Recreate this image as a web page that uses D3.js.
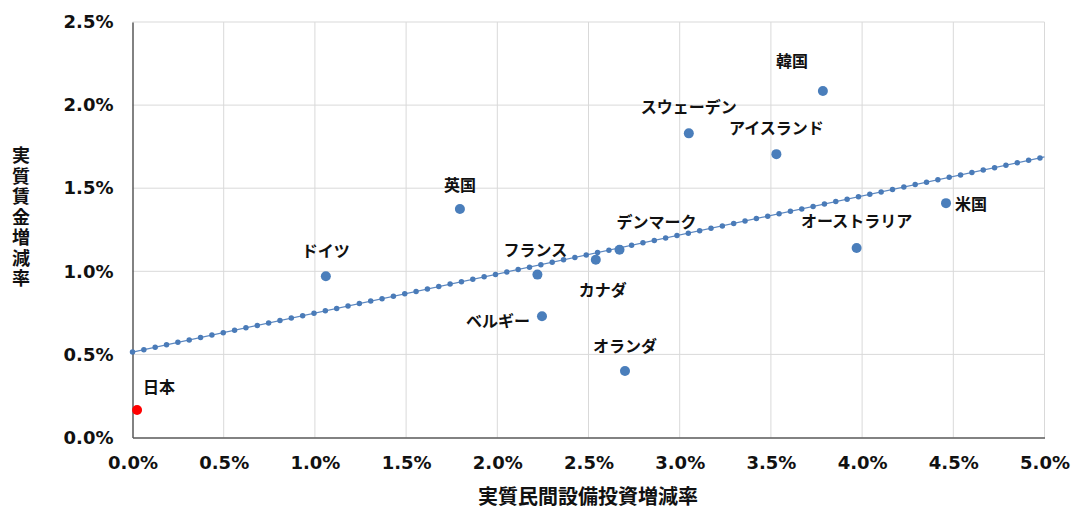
<!DOCTYPE html>
<html>
<head>
<meta charset="utf-8">
<script src="https://cdn.jsdelivr.net/npm/d3@7"></script>
<style>
  body { margin: 0; background: #fff; }
  text { font-family: "Noto Sans CJK JP", sans-serif; font-weight: bold; fill: #111; }
  .tick text { font-family: "DejaVu Sans", Verdana, sans-serif; font-weight: bold; }
</style>
</head>
<body>
<svg id="chart" width="1073" height="508"></svg>
<script>
// 国名と値（%）
var countries = ["日本", "ドイツ", "英国", "フランス", "ベルギー", "カナダ", "デンマーク", "オランダ", "スウェーデン", "アイスランド", "韓国", "オーストラリア", "米国"];
var investGrowth = [0.025, 1.06, 1.795, 2.22, 2.245, 2.54, 2.67, 2.70, 3.05, 3.53, 3.785, 3.97, 4.46];
var wageGrowth = [0.165, 0.97, 1.375, 0.98, 0.73, 1.07, 1.13, 0.40, 1.83, 1.705, 2.085, 1.14, 1.41];
var trendX = [0, 5];
var trendY = [0.514, 1.688];
var xTicks = [0, 0.5, 1, 1.5, 2, 2.5, 3, 3.5, 4, 4.5, 5];
var yTicks = [0, 0.5, 1, 1.5, 2, 2.5];

// ラベルの置き場所 (点からのずれ)
var labelPos = {
  "日本": [22, -24, "middle"], "ドイツ": [0, -26, "middle"], "英国": [0, -25, "middle"],
  "フランス": [-2, -26, "middle"], "ベルギー": [-12, 4, "end"], "カナダ": [7, 29, "middle"],
  "デンマーク": [37, -29, "middle"], "オランダ": [0, -26, "middle"], "スウェーデン": [0, -27, "middle"],
  "アイスランド": [0, -27, "middle"], "韓国": [-31, -31, "middle"], "オーストラリア": [0, -28, "middle"],
  "米国": [9, 0, "start"]
};

var svg = d3.select("#chart");
var pLeft = 132.5, pRight = 1044.5, pTop = 22, pBottom = 437.5;

var x = d3.scaleLinear().domain([0, 5]).range([pLeft, pRight]);
var y = d3.scaleLinear().domain([0, 2.5]).range([pBottom, pTop]);

// グリッド
svg.append("g").selectAll("line").data(xTicks.slice(1)).enter().append("line")
  .attr("x1", function(d) { return x(d); }).attr("x2", function(d) { return x(d); })
  .attr("y1", pTop).attr("y2", pBottom)
  .attr("stroke", "#d9d9d9").attr("stroke-width", 1);
svg.append("g").selectAll("line").data(yTicks.slice(1)).enter().append("line")
  .attr("x1", pLeft).attr("x2", pRight)
  .attr("y1", function(d) { return y(d); }).attr("y2", function(d) { return y(d); })
  .attr("stroke", "#d9d9d9").attr("stroke-width", 1);

var fmt = function(d) { return d.toFixed(1) + "%"; };

var xAxis = svg.append("g").attr("transform", "translate(0," + pBottom + ")")
  .call(d3.axisBottom(x).tickValues(xTicks).tickFormat(fmt).tickSize(0).tickPadding(19));
var yAxis = svg.append("g").attr("transform", "translate(" + pLeft + ",0)")
  .call(d3.axisLeft(y).tickValues(yTicks).tickFormat(fmt).tickSize(0).tickPadding(19));
[xAxis, yAxis].forEach(function(a) {
  a.select(".domain").attr("stroke", "#595959").attr("stroke-width", 1.5);
  a.selectAll(".tick text").attr("font-size", "18px").attr("fill", "#111");
});

// 近似直線
var trendData = trendX.map(function(d, i) { return [d, trendY[i]]; });
var line = d3.line().x(function(d) { return x(d[0]); }).y(function(d) { return y(d[1]); });
svg.append("path").datum(trendData).attr("d", line)
  .attr("stroke", "#5b87c0").attr("stroke-width", 1.2).attr("fill", "none");
svg.append("path").datum(trendData).attr("d", line)
  .attr("stroke", "#4a7bb8").attr("stroke-width", 5.5).attr("fill", "none")
  .attr("stroke-linecap", "round").attr("stroke-dasharray", "0 11.6");

// 散布図
var pts = countries.map(function(c, i) { return { name: c, x: investGrowth[i], y: wageGrowth[i] }; });
svg.append("g").selectAll("circle").data(pts).enter().append("circle")
  .attr("cx", function(d) { return x(d.x); })
  .attr("cy", function(d) { return y(d.y); })
  .attr("r", 5)
  .attr("fill", function(d) { return d.name === "日本" ? "#ff0000" : "#4a7ebb"; });

svg.append("g").selectAll("text").data(pts).enter().append("text")
  .attr("x", function(d) { return x(d.x) + labelPos[d.name][0]; })
  .attr("y", function(d) { return y(d.y) + labelPos[d.name][1]; })
  .attr("text-anchor", function(d) { return labelPos[d.name][2]; })
  .attr("dominant-baseline", "central")
  .attr("font-size", "16px")
  .text(function(d) { return d.name; });

// 軸タイトル
svg.append("text").attr("x", 588).attr("y", 495).attr("text-anchor", "middle")
  .attr("dominant-baseline", "central").attr("font-size", "20px").text("実質民間設備投資増減率");
// 縦書き
svg.append("text").attr("x", 21).attr("y", 218)
  .attr("writing-mode", "vertical-rl").attr("text-anchor", "middle")
  .attr("letter-spacing", "2.5px").attr("font-size", "18px")
  .text("実質賃金増減率");
</script>
</body>
</html>
